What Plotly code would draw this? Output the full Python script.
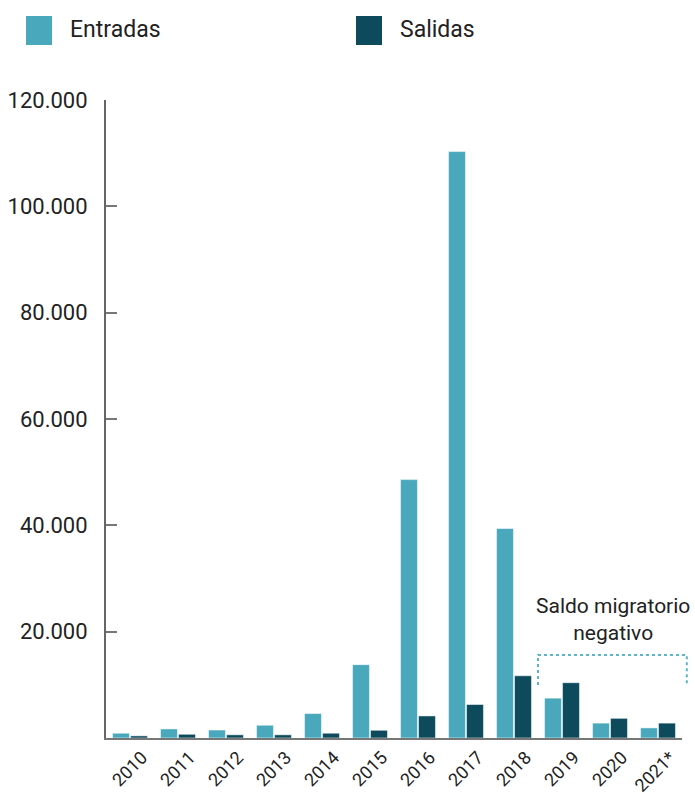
import plotly.graph_objects as go

# ---- data ----
years = ["2010", "2011", "2012", "2013", "2014", "2015", "2016", "2017", "2018", "2019", "2020", "2021*"]
entradas = [900, 1700, 1500, 2400, 4600, 13800, 48600, 110300, 39400, 7500, 2800, 1900]
salidas = [400, 700, 600, 600, 900, 1450, 4150, 6300, 11700, 10400, 3700, 2800]
y_ticks = [20000, 40000, 60000, 80000, 100000, 120000]
series_names = ["Entradas", "Salidas"]
note_text = "Saldo migratorio<br>negativo"

C_IN = "#4aa8bd"
C_OUT = "#0c4a5c"
TXT = "#222222"
FONT = "Roboto"

W, H = 695, 798
ML, MR, MT, MB = 106, 13, 100, 60
PW = W - ML - MR
PH = H - MT - MB
YMAX = 120000
N = len(years)


def px(x):
    return (x - ML) / PW


def py(y):
    return (H - MB - y) / PH


def cx(idx):
    # category index -> paper x
    return (idx + 0.5) / N


def vy(v):
    # data value -> paper y
    return v / YMAX


fig = go.Figure()
fig.add_trace(go.Bar(x=years, y=entradas, name=series_names[0], marker_color=C_IN,
                     marker_line=dict(color="rgba(255,255,255,0.5)", width=1), showlegend=False))
fig.add_trace(go.Bar(x=years, y=salidas, name=series_names[1], marker_color=C_OUT,
                     marker_line=dict(color="rgba(255,255,255,0.5)", width=1), showlegend=False))

shapes = []
annotations = []
# manual legend
for i, (name, col) in enumerate(zip(series_names, [C_IN, C_OUT])):
    x0 = 26 + i * 330
    shapes.append(dict(type="rect", xref="paper", yref="paper",
                       x0=px(x0), x1=px(x0 + 26), y0=py(45), y1=py(16),
                       fillcolor=col, line=dict(width=0)))
    annotations.append(dict(xref="paper", yref="paper", x=px(x0 + 42), y=py(30),
                            xanchor="left", yanchor="middle", showarrow=False,
                            text=name, font=dict(family=FONT, size=23, color=TXT)))

# bracket for negative migration balance
bx0, bx1, by0, by1 = cx(8.5), cx(11.6), vy(9950), vy(15600)
shapes.append(dict(type="path", xref="paper", yref="paper",
                   path=f"M {bx0} {by0} L {bx0} {by1} L {bx1} {by1} L {bx1} {by0}",
                   line=dict(color="#5bb6cb", width=2, dash="dot")))
annotations.append(dict(xref="paper", yref="paper", x=cx(10.07), y=vy(22300),
                        xanchor="center", yanchor="middle",
                        showarrow=False, text=note_text, align="center",
                        font=dict(family=FONT, size=21, color=TXT)))

fig.update_layout(
    width=W, height=H,
    margin=dict(l=ML, r=MR, t=MT, b=MB, pad=0, autoexpand=False),
    paper_bgcolor="white", plot_bgcolor="white",
    barmode="group", bargap=0.25, bargroupgap=0.06,
    separators=",.",
    font=dict(family=FONT, color=TXT),
    shapes=shapes, annotations=annotations,
    showlegend=False,
)
fig.update_xaxes(range=[-0.5, N - 0.5], showline=True, linecolor="#777777", linewidth=2, ticks="",
                 tickangle=-45, tickfont=dict(family=FONT, size=18, color=TXT),
                 ticklabelstandoff=0, ticklabelshift=12, automargin=False,
                 showgrid=False, zeroline=False)
fig.update_yaxes(range=[0, YMAX], tickvals=y_ticks, tickformat=",d",
                 showline=True, linecolor="#666666", linewidth=2,
                 ticks="inside", ticklen=11, tickwidth=2, tickcolor="#777777",
                 tickfont=dict(family=FONT, size=22, color=TXT), ticklabelstandoff=12,
                 automargin=False, showgrid=False, zeroline=False)

fig.write_html("out.html")
